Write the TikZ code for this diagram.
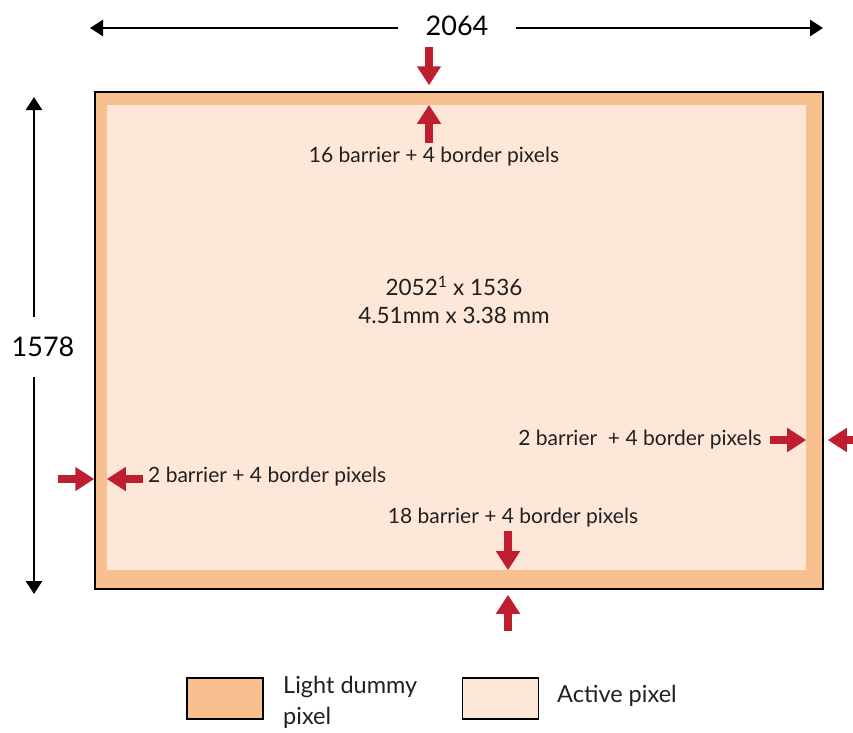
\documentclass[tikz,border=0pt]{standalone}
\usepackage{fontspec}
\setmainfont{Lato}
\usetikzlibrary{arrows.meta}
\usetikzlibrary{positioning}
\definecolor{dummyorange}{RGB}{249,192,143}
\definecolor{activepeach}{RGB}{252,231,217}
\definecolor{markred}{RGB}{190,30,45}
\definecolor{inktext}{RGB}{35,31,32}

\begin{document}
\begin{tikzpicture}[x=1pt,y=-1pt,
    dimline/.style={line width=2.8pt,-{Triangle[width=16pt,length=13pt]}},
    redarrow/.style={color=markred,line width=8pt,-{Triangle[width=23pt,length=19pt,fill=markred]}},
    lbl/.style={text=inktext,font=\fontsize{21}{22}\selectfont,inner sep=0pt},
    swatch/.style={draw=black,line width=1.4pt,minimum width=76pt,minimum height=41pt,inner sep=0pt}]
  \useasboundingbox (0,0) rectangle (853,732);

  % Sensor area
  \node[draw=black,line width=1.5pt,fill=dummyorange,minimum width=728pt,minimum height=497pt,inner sep=0pt] (dummy) at (459,340.5){};
  \node[fill=activepeach,minimum width=699pt,minimum height=465pt,inner sep=0pt] (active) at (456.5,337.5){};

  \node[text=inktext,font=\fontsize{22.5}{28}\selectfont,align=center] (size) at (454,300)
    {2052\textsuperscript{1} x 1536\\4.51mm x 3.38 mm};

  % Dimension arrows
  \node[font=\fontsize{27}{30}\selectfont,inner xsep=27pt,inner ysep=2pt] (width) at (457,26) {2064};
  \node[font=\fontsize{27}{30}\selectfont,inner xsep=2pt,inner ysep=20pt] (height) at (43,347) {1578};
  \coordinate (wl) at (90,28);
  \coordinate (wr) at (823,28);
  \coordinate (ht) at (34,97);
  \coordinate (hb) at (34,594);
  \draw[dimline] (width.west |- wl) -- (wl);
  \draw[dimline] (width.east |- wr) -- (wr);
  \draw[dimline] (height.north -| ht) -- (ht);
  \draw[dimline] (height.south -| hb) -- (hb);

  % Border arrows
  \coordinate (topout) at (429,47);
  \coordinate (topin) at (429,143);
  \coordinate (botin) at (508,531);
  \coordinate (botout) at (508,631);
  \coordinate (leftout) at (58,479);
  \coordinate (leftin) at (143,479);
  \coordinate (rightin) at (770,440);
  \coordinate (rightout) at (860,440);
  \path[redarrow]
    (topout) edge ([yshift=6pt]dummy.north -| topout)
    (topin) edge (active.north -| topin)
    (botin) edge (active.south -| botin)
    (botout) edge ([yshift=-5pt]dummy.south -| botout)
    (leftout) edge (dummy.west |- leftout)
    (leftin) edge (active.west |- leftin)
    (rightin) edge (active.east |- rightin)
    (rightout) edge ([xshift=4pt]dummy.east |- rightout);

  \node[lbl] (toplbl) at (434,157) {16 barrier + 4 border pixels};
  \node[lbl] (botlbl) at (513,518) {18 barrier + 4 border pixels};
  \node[lbl,anchor=west] (leftlbl) at (148,477) {2 barrier + 4 border pixels};
  \node[lbl,anchor=east] (rightlbl) at (762,440) {2 barrier\ \ + 4 border pixels};

  % Legend
  \node[swatch,fill=dummyorange] (key1) at (225,698.5){};
  \node[swatch,fill=activepeach] (key2) at (500.5,698.5){};
  \node[text=inktext,font=\fontsize{23.5}{31}\selectfont,align=left,anchor=west,inner sep=0pt] (key1lbl) at (283,702) {Light dummy\\pixel};
  \node[text=inktext,font=\fontsize{23.5}{31}\selectfont,anchor=west,inner sep=0pt] (key2lbl) at (557,696) {Active pixel};
\end{tikzpicture}
\end{document}
